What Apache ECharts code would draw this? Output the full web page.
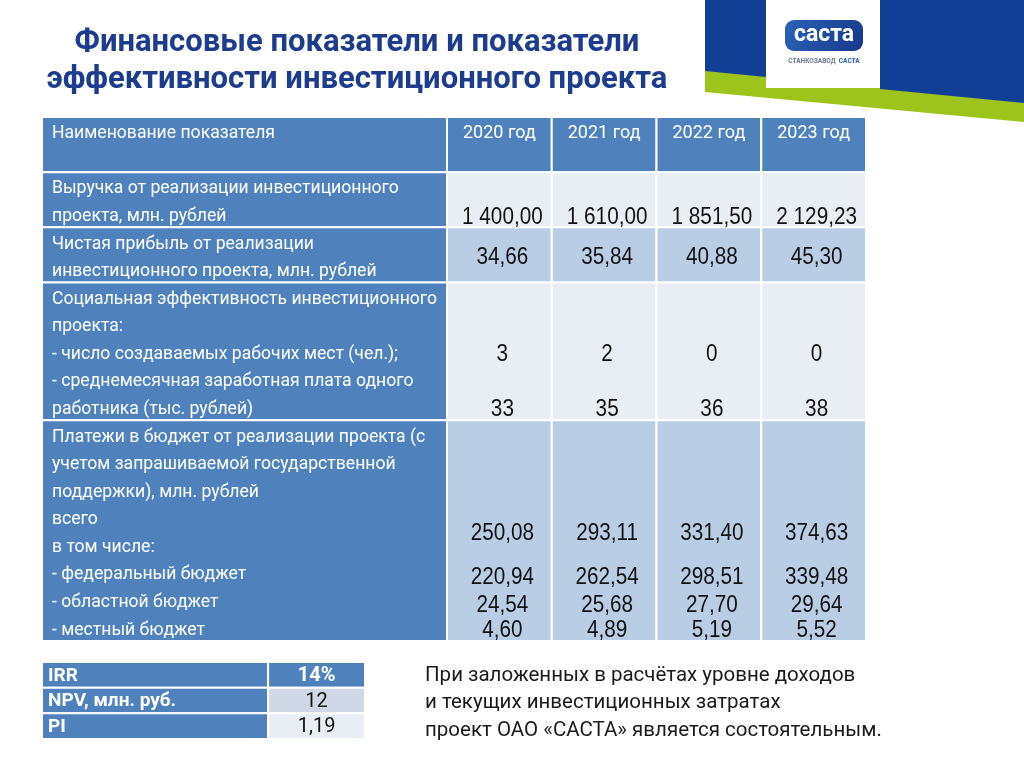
<!DOCTYPE html>
<html><head><meta charset="utf-8">
<script src="https://cdn.jsdelivr.net/npm/echarts@6.0.0/dist/echarts.min.js"></script>
<style>html,body{margin:0;padding:0;background:#fff;}#c{width:1024px;height:767px;}</style>
</head><body><div id="c"></div>
<script>
// ---------- DATA ----------
const titleLines = ['Финансовые показатели и показатели', 'эффективности инвестиционного проекта'];
const headerLabel = 'Наименование показателя';
const years = ['2020 год', '2021 год', '2022 год', '2023 год'];
const indicatorLabels = [
  ['Выручка от реализации инвестиционного', 'проекта, млн. рублей'],
  ['Чистая прибыль от реализации', 'инвестиционного проекта, млн. рублей'],
  ['Социальная эффективность инвестиционного', 'проекта:', '- число создаваемых рабочих мест (чел.);', '- среднемесячная заработная плата одного', 'работника (тыс. рублей)'],
  ['Платежи в бюджет от реализации проекта (с', 'учетом запрашиваемой государственной', 'поддержки), млн. рублей', 'всего', 'в том числе:', '- федеральный бюджет', '- областной бюджет', '- местный бюджет']
];
const revenue = [1400.00, 1610.00, 1851.50, 2129.23];
const netProfit = [34.66, 35.84, 40.88, 45.30];
const jobs = [3, 2, 0, 0];
const salary = [33, 35, 36, 38];
const budgetTotal = [250.08, 293.11, 331.40, 374.63];
const budgetFederal = [220.94, 262.54, 298.51, 339.48];
const budgetRegional = [24.54, 25.68, 27.70, 29.64];
const budgetLocal = [4.60, 4.89, 5.19, 5.52];
const metricNames = ['IRR', 'NPV, млн. руб.', 'PI'];
const metricValues = [14, 12, 1.19];
const noteLines = ['При заложенных в расчётах уровне доходов', 'и текущих инвестиционных затратах', 'проект ОАО «САСТА» является состоятельным.'];
const logoWord = 'саста';
const logoCaption = ['СТАНКОЗАВОД', 'САСТА'];

// ---------- FORMAT ----------
function fmt2(v) {
  const s = v.toFixed(2).split('.');
  return s[0].replace(/\B(?=(\d{3})+(?!\d))/g, ' ') + ',' + s[1];
}
function fmtInt(v) { return String(v); }
function fmtMetric(v, i) { return i === 0 ? v + '%' : String(v).replace('.', ','); }

// ---------- LAYOUT ----------
const BLUE = '#4F81BD', LIGHT = '#E9EDF4', DARK = '#B9CDE5', MID = '#D0D8E8';
const LABEL_FONT = 'Roboto, "Noto Sans", sans-serif';
const NUM_FONT = '"Liberation Sans", Arial, sans-serif';
const HEADER_LINES = 2;
const TXT_DY = 3;
const rowSpecs = [
  { labels: [headerLabel], lines: HEADER_LINES, header: true },
  { labels: indicatorLabels[0], band: LIGHT, values: [{ arr: revenue, f: fmt2, at: 1.55 }] },
  { labels: indicatorLabels[1], band: DARK, values: [{ arr: netProfit, f: fmt2, at: 1.0 }] },
  { labels: indicatorLabels[2], band: LIGHT, values: [{ arr: jobs, f: fmtInt, at: 2.5 }, { arr: salary, f: fmtInt, at: 4.5 }] },
  { labels: indicatorLabels[3], band: DARK, values: [
      { arr: budgetTotal, f: fmt2, at: 4.0 }, { arr: budgetFederal, f: fmt2, at: 5.6 },
      { arr: budgetRegional, f: fmt2, at: 6.6 }, { arr: budgetLocal, f: fmt2, at: 7.5 }] }
];
let acc = 0;
rowSpecs.forEach(r => { r.start = acc; acc += (r.lines || r.labels.length); r.end = acc; });
const totalLines = acc;

function renderLabel(params, api) {
  const r = rowSpecs[params.dataIndex];
  const p0 = api.coord([0, r.start]), p1 = api.coord([1, r.end]);
  const children = [{ type: 'rect', shape: { x: p0[0], y: p0[1], width: p1[0] - p0[0], height: p1[1] - p0[1] },
    style: { fill: BLUE, stroke: '#fff', lineWidth: 2 } }];
  r.labels.forEach((t, i) => {
    const p = api.coord([0, r.start + i + 0.5]);
    children.push({ type: 'text', x: p[0] + 10, y: p[1] + TXT_DY, z2: 10,
      style: { text: t, fill: '#fff', fontSize: 17.6, fontFamily: LABEL_FONT, align: 'left', verticalAlign: 'middle' } });
  });
  return { type: 'group', children };
}

function renderCell(params, api) {
  const yi = api.value(0), ri = api.value(1);
  const r = rowSpecs[ri];
  const a = api.coord([yi, r.start]), b = api.coord([yi, r.end]);
  const w = api.size([1, 0])[0];
  const children = [{ type: 'rect', shape: { x: a[0] - w / 2, y: a[1], width: w, height: b[1] - a[1] },
    style: { fill: r.header ? BLUE : r.band, stroke: '#fff', lineWidth: 2 } }];
  if (r.header) {
    const p = api.coord([yi, r.start + 0.5]);
    children.push({ type: 'text', x: p[0], y: p[1] + TXT_DY, z2: 10,
      style: { text: years[yi], fill: '#fff', fontSize: 18, fontFamily: LABEL_FONT, align: 'center', verticalAlign: 'middle' } });
  } else {
    r.values.forEach(v => {
      const p = api.coord([yi, r.start + v.at]);
      children.push({ type: 'text', x: p[0] + 3, y: p[1] + TXT_DY, scaleX: 0.9, z2: 10,
        style: { text: v.f(v.arr[yi]), fill: '#111', fontSize: 23, fontFamily: NUM_FONT, align: 'center', verticalAlign: 'middle' } });
    });
  }
  return { type: 'group', children };
}

const SPLIT = 0.70;
function renderMetric(params, api) {
  const i = params.dataIndex;
  const c = api.coord([0, i]);
  const e = api.coord([1, i]);
  const s = api.coord([SPLIT, i]);
  const h = api.size([0, 1])[1];
  const y0 = c[1] - h / 2;
  const valFill = i === 0 ? BLUE : (i === 1 ? MID : LIGHT);
  return { type: 'group', children: [
    { type: 'rect', shape: { x: c[0], y: y0, width: s[0] - c[0], height: h }, style: { fill: BLUE, stroke: '#fff', lineWidth: 2 } },
    { type: 'rect', shape: { x: s[0], y: y0, width: e[0] - s[0], height: h }, style: { fill: valFill, stroke: '#fff', lineWidth: 2 } },
    { type: 'text', x: c[0] + 6, y: c[1] + 1, z2: 10, style: { text: metricNames[i], fill: '#fff', fontSize: 19, fontWeight: 'bold', fontFamily: LABEL_FONT, align: 'left', verticalAlign: 'middle' } },
    { type: 'text', x: (s[0] + e[0]) / 2, y: c[1] + 1, z2: 10, style: { text: fmtMetric(metricValues[i], i), fill: i === 0 ? '#fff' : '#111', fontSize: 20, fontWeight: i === 0 ? 'bold' : 'normal', fontFamily: LABEL_FONT, align: 'center', verticalAlign: 'middle' } }
  ] };
}

const chart = echarts.init(document.getElementById('c'), null, { renderer: 'canvas' });
const hidden = { show: false };
chart.setOption({
  animation: false,
  backgroundColor: '#fff',
  title: {
    text: titleLines.join('\n'), left: 352, top: 20, textAlign: 'center',
    textStyle: { fontSize: 31, fontWeight: 'bold', color: '#1d3c8e', lineHeight: 37, fontFamily: LABEL_FONT }
  },
  grid: [
    { left: 42, top: 117, width: 405, height: 524 },
    { left: 447, top: 117, width: 419, height: 524 },
    { left: 42, top: 662, width: 323, height: 77 }
  ],
  xAxis: [
    { type: 'value', gridIndex: 0, min: 0, max: 1, ...hidden },
    { type: 'category', gridIndex: 1, data: years, ...hidden },
    { type: 'value', gridIndex: 2, min: 0, max: 1, ...hidden }
  ],
  yAxis: [
    { type: 'value', gridIndex: 0, min: 0, max: totalLines, inverse: true, ...hidden },
    { type: 'value', gridIndex: 1, min: 0, max: totalLines, inverse: true, ...hidden },
    { type: 'category', gridIndex: 2, data: metricNames, inverse: true, ...hidden }
  ],
  series: [
    { type: 'custom', xAxisIndex: 0, yAxisIndex: 0, renderItem: renderLabel, data: rowSpecs.map((r, i) => [0, i]), silent: true },
    { type: 'custom', xAxisIndex: 1, yAxisIndex: 1, renderItem: renderCell,
      data: rowSpecs.flatMap((r, ri) => years.map((y, yi) => [yi, ri])), silent: true },
    { type: 'custom', xAxisIndex: 2, yAxisIndex: 2, renderItem: renderMetric, data: metricNames.map((n, i) => [0, i]), silent: true }
  ],
  graphic: [
    { type: 'polygon', shape: { points: [[705, 70], [1024, 102], [1024, 122], [705, 92]] }, style: { fill: '#9DC41A' } },
    { type: 'polygon', shape: { points: [[705, 0], [766, 0], [766, 77], [705, 71]] }, style: { fill: '#123f96' } },
    { type: 'polygon', shape: { points: [[880, 0], [1024, 0], [1024, 103], [880, 89]] }, style: { fill: '#123f96' } },
    { type: 'rect', shape: { x: 766, y: 0, width: 114, height: 88 }, style: { fill: '#fff' } },
    { type: 'rect', shape: { x: 785, y: 20, width: 78, height: 31, r: 9 },
      style: { fill: new echarts.graphic.LinearGradient(0, 0, 1, 1, [{ offset: 0, color: '#2a62b8' }, { offset: 1, color: '#17388a' }]) } },
    { type: 'text', x: 824, y: 35, style: { text: logoWord, fill: '#fff', fontSize: 23, fontWeight: 'bold', fontFamily: 'Roboto, sans-serif', align: 'center', verticalAlign: 'middle' } },
    { type: 'text', x: 824, y: 61, style: { text: '{g|' + logoCaption[0] + '} {b|' + logoCaption[1] + '}', align: 'center', verticalAlign: 'middle',
      rich: { g: { fill: '#6b7a90', fontSize: 6.5, fontWeight: 'bold', fontFamily: 'Roboto, sans-serif' }, b: { fill: '#2a62b8', fontSize: 6.5, fontWeight: 'bold', fontFamily: 'Roboto, sans-serif' } } } },
    { type: 'text', x: 425, y: 662, style: { text: noteLines.join('\n'), fill: '#1a1a1a', fontSize: 20.5, lineHeight: 27.5, fontFamily: LABEL_FONT, align: 'left', verticalAlign: 'top' } }
  ]
});
</script></body></html>
